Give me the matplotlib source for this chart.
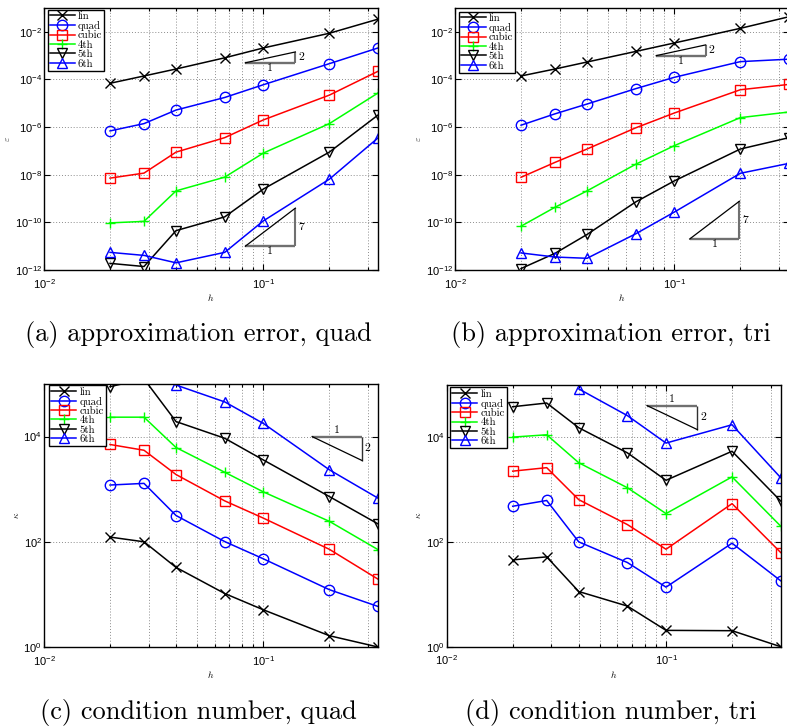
"""
Convergence / conditioning figure: error and condition number vs h,
for quad and tri meshes, orders lin..6th.
"""

import numpy as np
import matplotlib
matplotlib.use("Agg")
import matplotlib.pyplot as plt
from matplotlib.ticker import LogLocator, NullLocator, NullFormatter, FixedLocator

plt.rcParams["font.family"] = ["Liberation Sans", "DejaVu Sans"]
plt.rcParams["mathtext.fontset"] = "cm"
plt.rcParams["axes.unicode_minus"] = False

# mesh sizes
h = [1 / 50, 1 / 35, 1 / 25, 1 / 15, 1 / 10, 1 / 5, 1 / 3]

labels = ["lin", "quad", "cubic", "4th", "5th", "6th"]
colors = ["k", (0, 0, 1), (1, 0, 0), (0, 1, 0), "k", (0, 0, 1)]
markers = ["x", "o", "s", "+", "v", "^"]

# (a) approximation error, quad
err_quad_lin = [6.9e-5, 1.4e-4, 2.75e-4, 8.1e-4, 2.1e-3, 8.7e-3, 3.4e-2]
err_quad_quad = [6.9e-7, 1.4e-6, 5.2e-6, 1.75e-5, 6.0e-5, 4.6e-4, 2.1e-3]
err_quad_cubic = [7.2e-9, 1.17e-8, 8.9e-8, 3.6e-7, 2.0e-6, 2.2e-5, 2.2e-4]
err_quad_4th = [9.5e-11, 1.1e-10, 2.1e-9, 7.9e-9, 8.1e-8, 1.4e-6, 2.7e-5]
err_quad_5th = [1.9e-12, 1.4e-12, 4.5e-11, 1.7e-10, 2.5e-9, 8.9e-8, 3.2e-6]
err_quad_6th = [5.5e-12, 4.1e-12, 2.0e-12, 5.5e-12, 1.15e-10, 6.5e-9, 3.5e-7]

# (b) approximation error, tri
err_tri_lin = [1.4e-4, 2.75e-4, 5.4e-4, 1.5e-3, 3.4e-3, 1.4e-2, 4.3e-2]
err_tri_quad = [1.2e-6, 3.6e-6, 9.3e-6, 4.1e-5, 1.23e-4, 5.6e-4, 7.1e-4]
err_tri_cubic = [7.8e-9, 3.3e-8, 1.2e-7, 9.3e-7, 3.9e-6, 3.7e-5, 6.2e-5]
err_tri_4th = [6.9e-11, 4.3e-10, 2.1e-9, 2.75e-8, 1.66e-7, 2.5e-6, 4.3e-6]
err_tri_5th = [1.15e-12, 5.0e-12, 3.1e-11, 7.2e-10, 5.5e-9, 1.2e-7, 3.6e-7]
err_tri_6th = [5.2e-12, 3.5e-12, 3.1e-12, 3.3e-11, 2.7e-10, 1.15e-8, 3.0e-8]

# (c) condition number, quad
cond_quad_lin = [123, 100, 32.6, 10.4, 5.1, 1.64, 1.0]
cond_quad_quad = [1200, 1290, 316, 101, 47.5, 12.3, 5.9]
cond_quad_cubic = [7080, 5500, 1900, 600, 282, 72, 19.5]
cond_quad_4th = [23400, 23400, 6200, 2100, 890, 245, 71]
cond_quad_5th = [89000, 125000, 19300, 9300, 3600, 725, 219]
cond_quad_6th = [np.nan, np.nan, 95500, 45700, 17800, 2340, 676]

# (d) condition number, tri
cond_tri_lin = [45.4, 51.8, 11.3, 5.96, 2.05, 2.02, 1.0]
cond_tri_quad = [479, 617, 100, 40.4, 13.7, 94.4, 18.1]
cond_tri_cubic = [2240, 2610, 640, 214, 72.4, 537, 62.7]
cond_tri_4th = [10000, 11070, 3240, 1080, 347, 1740, 200]
cond_tri_5th = [38000, 44700, 15100, 5000, 1500, 5370, 603]
cond_tri_6th = [np.nan, np.nan, 83200, 25700, 7690, 17200, 1680]

# slope triangles: (x0, x1, y corner, slope, label)
tri_a = [(0.0828, 0.14, 5e-4, 2, "2"), (0.0828, 0.14, 1e-11, 7, "7")]
tri_b = [(0.0827, 0.139, 1e-3, 2, "2"), (0.1175, 0.198, 2e-11, 7, "7")]
tri_c = [(0.167, 0.282, 1e4, -2, "2")]
tri_d = [(0.0819, 0.139, 4e4, -2, "2")]

W, H = 787, 726


def px_axes(left, top, right, bottom):
    return [left / W, 1 - bottom / H, (right - left) / W, (bottom - top) / H]


def slope_triangle(ax, x0, x1, yc, slope, lab):
    y1 = yc * (x1 / x0) ** slope
    ax.plot([x0, x1], [yc, yc], color="#707070", lw=1.7, solid_capstyle="butt")
    if slope > 0:
        # horizontal leg at bottom, vertical on right going up
        ax.plot([x1, x1], [yc, y1], color="#707070", lw=1.5, solid_capstyle="butt")
        ax.annotate("1", (np.sqrt(x0 * x1), yc), xytext=(0, -0.5), textcoords="offset points",
                    ha="center", va="top", fontsize=8.5, family="cmr10")
    else:
        # horizontal leg on top, vertical on right going down
        ax.plot([x1, x1], [yc, y1], color="#303030", lw=1.0, solid_capstyle="butt")
        ax.annotate("1", (np.sqrt(x0 * x1), yc), xytext=(0, 1), textcoords="offset points",
                    ha="center", va="bottom", fontsize=8.5, family="cmr10")
    ax.plot([x0, x1], [yc, y1], color="k", lw=0.9)
    ax.annotate(lab, (x1, np.sqrt(yc * y1)), xytext=(2, 0), textcoords="offset points",
                ha="left", va="center", fontsize=8.5, family="cmr10")


def panel(fig, rect, series, ylim, yticks, ylab, tris, leg_off):
    ax = fig.add_axes(rect)
    for ys, lab, c, m in zip(series, labels, colors, markers):
        ax.plot(h, ys, color=c, marker=m, ms=7.5, mew=1.0, mfc="none",
                lw=1.1, label=lab)
    ax.set_xscale("log")
    ax.set_yscale("log")
    ax.set_xlim(1e-2, 1 / 3)
    ax.set_ylim(*ylim)
    ax.xaxis.set_major_locator(FixedLocator([1e-2, 1e-1]))
    ax.xaxis.set_minor_locator(LogLocator(base=10, subs=np.arange(2, 10)))
    ax.xaxis.set_minor_formatter(NullFormatter())
    ax.yaxis.set_major_locator(FixedLocator(yticks))
    ax.yaxis.set_minor_locator(NullLocator())
    ax.tick_params(which="both", direction="in", top=True, right=True,
                   labelsize=8, width=0.8)
    ax.tick_params(axis="x", pad=5)
    ax.tick_params(axis="y", pad=1.5)
    ax.tick_params(which="major", length=4)
    ax.tick_params(which="minor", length=2)
    ax.grid(True, which="major", color="0.55", ls=(0, (1, 2)), lw=0.7)
    ax.xaxis.grid(True, which="minor", color="0.55", ls=(0, (1, 2)), lw=0.7)
    ax.set_axisbelow(True)
    for sp in ax.spines.values():
        sp.set_linewidth(1.0)
    ax.set_xlabel(r"$h$", fontsize=7, labelpad=1)
    ax.set_ylabel(ylab, fontsize=7, labelpad=2, color="#333333")
    for t in tris:
        slope_triangle(ax, *t)

    # legend box sits a few pixels inside the upper-left corner
    pos = ax.get_position()
    bx = leg_off[0] / (pos.width * W)
    by = 1 - leg_off[1] / (pos.height * H)
    leg = ax.legend(loc="upper left", bbox_to_anchor=(bx, by), borderaxespad=0,
                    prop={"family": "cmr10", "size": 7.8},
                    handlelength=2.3, handletextpad=0.3, labelspacing=-0.02,
                    borderpad=0.2, fancybox=False, framealpha=1, edgecolor="k")
    leg.get_frame().set_linewidth(1.0)
    return ax


fig = plt.figure(figsize=(W / 100, H / 100), dpi=100)

err_ticks = [1e-12, 1e-10, 1e-8, 1e-6, 1e-4, 1e-2]
cond_ticks = [1e0, 1e2, 1e4]

panel(fig, px_axes(44, 8, 378, 270),
      [err_quad_lin, err_quad_quad, err_quad_cubic, err_quad_4th, err_quad_5th, err_quad_6th],
      (1e-12, 1e-1), err_ticks, r"$\varepsilon$", tri_a, (3.5, 1.5))
panel(fig, px_axes(455, 8, 789, 270),
      [err_tri_lin, err_tri_quad, err_tri_cubic, err_tri_4th, err_tri_5th, err_tri_6th],
      (1e-12, 1e-1), err_ticks, r"$\varepsilon$", tri_b, (3.5, 3.5))
panel(fig, px_axes(44, 384, 378, 647),
      [cond_quad_lin, cond_quad_quad, cond_quad_cubic, cond_quad_4th, cond_quad_5th, cond_quad_6th],
      (1e0, 1e5), cond_ticks, r"$\kappa$", tri_c, (5, 1))
panel(fig, px_axes(446.7, 384.7, 780.7, 646.7),
      [cond_tri_lin, cond_tri_quad, cond_tri_cubic, cond_tri_4th, cond_tri_5th, cond_tri_6th],
      (1e0, 1e5), cond_ticks, r"$\kappa$", tri_d, (3.5, 2.5))

captions = ["(a) approximation error, quad", "(b) approximation error, tri",
            "(c) condition number, quad", "(d) condition number, tri"]
cap_pos = [(198, 334), (611, 334), (198, 712), (611, 712)]
for txt, (cx, cy) in zip(captions, cap_pos):
    fig.text(cx / W, 1 - cy / H, txt, ha="center", va="center",
             fontsize=19, family="cmr10")

fig.savefig("out.png", dpi=100)
